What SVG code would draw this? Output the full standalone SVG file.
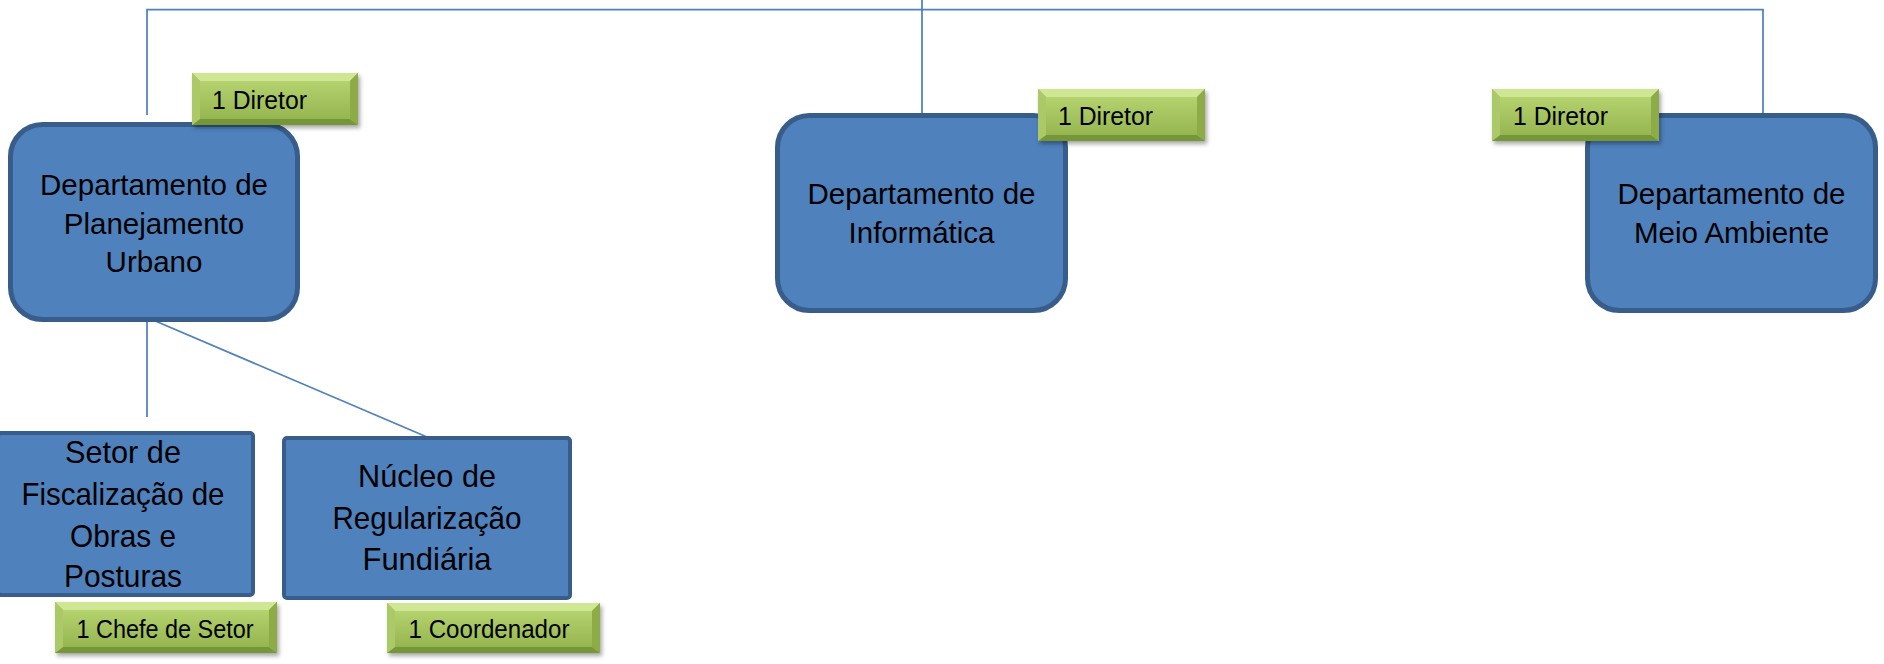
<svg xmlns="http://www.w3.org/2000/svg" width="1884" height="664" viewBox="0 0 1884 664">
<defs>
<style>
.box{fill:#4F81BD;stroke:#385D8A;stroke-width:5}
.sbox{fill:#4F81BD;stroke:#385D8A;stroke-width:4}
.t{font-family:"Liberation Sans",Arial,sans-serif;font-size:29.5px;fill:#000;text-anchor:middle}
.tb{font-size:30.5px}
.g{font-family:"Liberation Sans",Arial,sans-serif;font-size:25px;fill:#000}
.gc{text-anchor:middle}
.conn line,.conn polyline{stroke:#4F81BD;stroke-width:1.75;fill:none}
.bt{fill:#cfe795}
.bb{fill:#76963a}
.bl{fill:#abc966}
.br{fill:#8dac48}
.bc{fill:url(#gg)}
</style>
<linearGradient id="gg" x1="0" y1="0" x2="0" y2="1">
<stop offset="0" stop-color="#b4d26e"/>
<stop offset="1" stop-color="#96b651"/>
</linearGradient>
<filter id="sh" x="-10%" y="-20%" width="125%" height="160%">
<feDropShadow dx="2" dy="3" stdDeviation="2.2" flood-color="#000" flood-opacity="0.35"/>
</filter>
</defs>
<rect width="1884" height="664" fill="#fff"/>

<g id="connectors" class="conn">
<polyline points="147,115 147,9.5 1763,9.5 1763,113"/>
<line x1="922" y1="0" x2="922" y2="113"/>
<line x1="147" y1="320" x2="147" y2="417"/>
<line x1="153" y1="320" x2="427" y2="437"/>
</g>

<g id="node-planejamento">
<rect class="box" x="10.5" y="124.5" width="287" height="195" rx="32"/>
<text class="t" x="154" y="195">Departamento de</text>
<text class="t" x="154" y="233.5">Planejamento</text>
<text class="t" x="154" y="272">Urbano</text>
</g>

<g id="node-informatica">
<rect class="box" x="777.5" y="115.5" width="288" height="195" rx="32"/>
<text class="t" x="921.5" y="204">Departamento de</text>
<text class="t" x="921.5" y="243">Informática</text>
</g>

<g id="node-meio-ambiente">
<rect class="box" x="1587.5" y="115.5" width="288" height="195" rx="32"/>
<text class="t" x="1731.5" y="204">Departamento de</text>
<text class="t" x="1731.5" y="243">Meio Ambiente</text>
</g>

<g id="node-setor">
<rect class="sbox" x="-2" y="433" width="255" height="162" rx="3"/>
<text class="t tb" x="123" y="463" textLength="116" lengthAdjust="spacingAndGlyphs">Setor de</text>
<text class="t tb" x="123" y="505" textLength="203" lengthAdjust="spacingAndGlyphs">Fiscalização de</text>
<text class="t tb" x="123" y="547" textLength="106" lengthAdjust="spacingAndGlyphs">Obras e</text>
<text class="t tb" x="123" y="587" textLength="118" lengthAdjust="spacingAndGlyphs">Posturas</text>
</g>

<g id="node-nucleo">
<rect class="sbox" x="284" y="438" width="286" height="160" rx="3"/>
<text class="t tb" x="427" y="487" textLength="138" lengthAdjust="spacingAndGlyphs">Núcleo de</text>
<text class="t tb" x="427" y="529" textLength="189" lengthAdjust="spacingAndGlyphs">Regularização</text>
<text class="t tb" x="427" y="570" textLength="129" lengthAdjust="spacingAndGlyphs">Fundiária</text>
</g>

<g id="label-diretor-planejamento">
<g filter="url(#sh)">
<rect x="192" y="73" width="166" height="52" fill="#9bbb59"/>
</g>
<polygon class="bt" points="192,73 358,73 350,81 200,81"/>
<polygon class="bb" points="192,125 358,125 350,119 200,119"/>
<polygon class="bl" points="192,73 200,81 200,119 192,125"/>
<polygon class="br" points="358,73 350,81 350,119 358,125"/>
<rect class="bc" x="200" y="81" width="150" height="38"/>
<text class="g" x="212" y="109" textLength="95" lengthAdjust="spacingAndGlyphs">1 Diretor</text>
</g>

<g id="label-diretor-informatica">
<g filter="url(#sh)">
<rect x="1038" y="89" width="167" height="52" fill="#9bbb59"/>
</g>
<polygon class="bt" points="1038,89 1205,89 1197,97 1046,97"/>
<polygon class="bb" points="1038,141 1205,141 1197,135 1046,135"/>
<polygon class="bl" points="1038,89 1046,97 1046,135 1038,141"/>
<polygon class="br" points="1205,89 1197,97 1197,135 1205,141"/>
<rect class="bc" x="1046" y="97" width="151" height="38"/>
<text class="g" x="1058" y="125" textLength="95" lengthAdjust="spacingAndGlyphs">1 Diretor</text>
</g>

<g id="label-diretor-meio-ambiente">
<g filter="url(#sh)">
<rect x="1492" y="89" width="167" height="52" fill="#9bbb59"/>
</g>
<polygon class="bt" points="1492,89 1659,89 1651,97 1500,97"/>
<polygon class="bb" points="1492,141 1659,141 1651,135 1500,135"/>
<polygon class="bl" points="1492,89 1500,97 1500,135 1492,141"/>
<polygon class="br" points="1659,89 1651,97 1651,135 1659,141"/>
<rect class="bc" x="1500" y="97" width="151" height="38"/>
<text class="g" x="1513" y="125" textLength="95" lengthAdjust="spacingAndGlyphs">1 Diretor</text>
</g>

<g id="label-chefe-setor">
<g filter="url(#sh)">
<rect x="55" y="602" width="222" height="51" fill="#9bbb59"/>
</g>
<polygon class="bt" points="55,602 277,602 269,610 63,610"/>
<polygon class="bb" points="55,653 277,653 269,647 63,647"/>
<polygon class="bl" points="55,602 63,610 63,647 55,653"/>
<polygon class="br" points="277,602 269,610 269,647 277,653"/>
<rect class="bc" x="63" y="610" width="206" height="37"/>
<text class="g gc" x="165" y="638" textLength="177" lengthAdjust="spacingAndGlyphs">1 Chefe de Setor</text>
</g>

<g id="label-coordenador">
<g filter="url(#sh)">
<rect x="387" y="603" width="213" height="50" fill="#9bbb59"/>
</g>
<polygon class="bt" points="387,603 600,603 592,611 395,611"/>
<polygon class="bb" points="387,653 600,653 592,647 395,647"/>
<polygon class="bl" points="387,603 395,611 395,647 387,653"/>
<polygon class="br" points="600,603 592,611 592,647 600,653"/>
<rect class="bc" x="395" y="611" width="197" height="36"/>
<text class="g gc" x="489" y="638" textLength="161" lengthAdjust="spacingAndGlyphs">1 Coordenador</text>
</g>
</svg>
